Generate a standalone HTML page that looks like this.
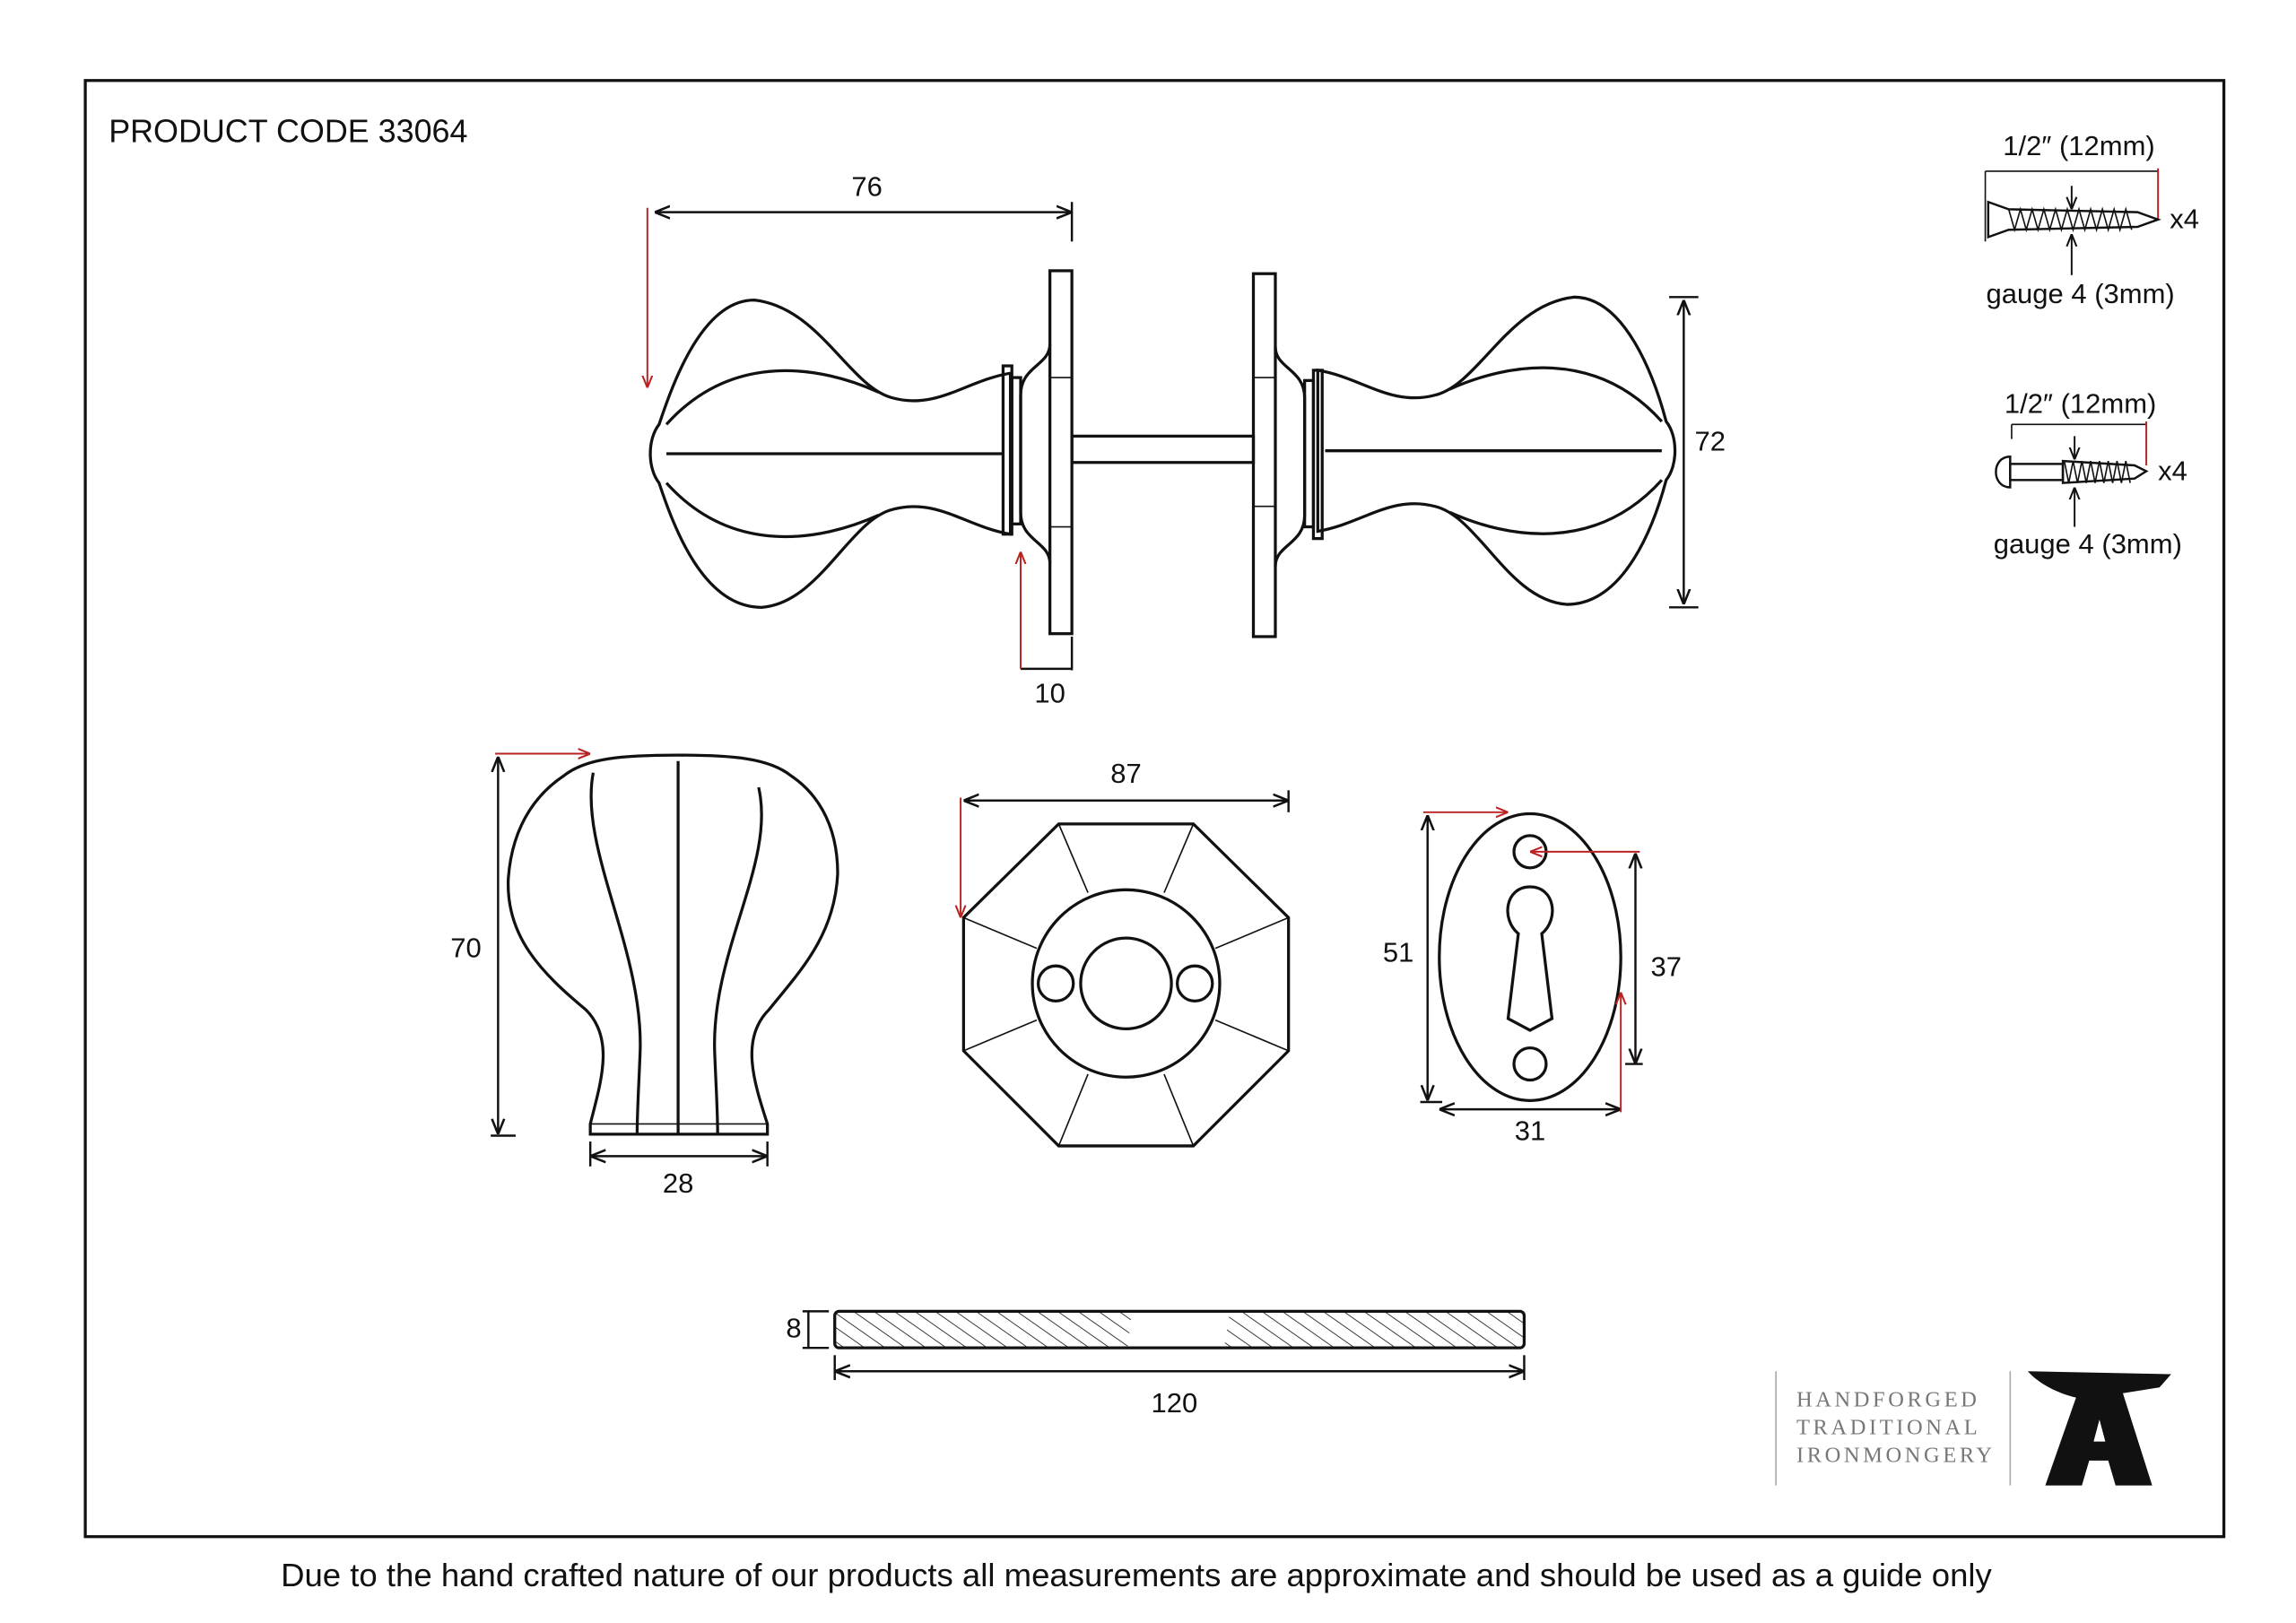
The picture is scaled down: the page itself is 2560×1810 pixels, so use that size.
<!DOCTYPE html>
<html><head><meta charset="utf-8"><style>
html,body{margin:0;padding:0;background:#fff;}
svg{display:block;}
text{font-family:"Liberation Sans",sans-serif;fill:#111;}
</style></head><body>
<svg width="2560" height="1810" viewBox="0 0 1568 1109" xmlns="http://www.w3.org/2000/svg">
<defs>
<marker id="a" viewBox="0 0 10 10" refX="10" refY="5" markerWidth="7" markerHeight="7" orient="auto-start-reverse"><path d="M0,1 L10,5 L0,9" fill="none" stroke="#111" stroke-width="1.5"/></marker>
<marker id="r" viewBox="0 0 10 10" refX="10" refY="5" markerWidth="7" markerHeight="7" orient="auto-start-reverse"><path d="M0,1 L10,5 L0,9" fill="none" stroke="#b22" stroke-width="1.5"/></marker>
<pattern id="h" width="8" height="8" patternUnits="userSpaceOnUse" patternTransform="rotate(-55)"><line x1="0" y1="0" x2="0" y2="8" stroke="#111" stroke-width="1"/></pattern>
</defs>
<rect x="58" y="55" width="1461" height="995" fill="none" stroke="#111" stroke-width="2"/>
<text x="74" y="97" font-size="22">PRODUCT CODE 33064</text>
<text x="776" y="1084" font-size="22.4" text-anchor="middle">Due to the hand crafted nature of our products all measurements are approximate and should be used as a guide only</text>

<g fill="none" stroke="#111" stroke-width="2">
<path d="M690,255 C660,260 640,280 610,272 C580,265 560,210 515,205 C480,205 460,260 450,290 C442,300 442,320 450,330 C460,360 480,415 520,415 C560,412 580,355 610,348 C640,340 660,360 690,365 Z"/>
<path d="M455,290 C500,240 560,250 600,268 M455,330 C500,380 560,370 600,352"/>
<line x1="455" y1="310" x2="685" y2="310"/>
<rect x="685" y="250" width="6" height="115"/><rect x="691" y="258" width="6" height="100"/>
<path d="M717,235 C717,250 697,250 697,270 L697,350 C697,370 717,370 717,385"/>
<rect x="717" y="185" width="15" height="248"/>
<rect x="732" y="298" width="124" height="18"/>
<rect x="856" y="187" width="15" height="248"/>
<path d="M871,237 C871,252 891,252 891,272 L891,352 C891,372 871,372 871,387"/>
<rect x="891" y="260" width="6" height="100"/><rect x="897" y="253" width="6" height="115"/>
<path d="M900,253 C930,258 950,278 980,270 C1010,263 1030,208 1075,203 C1110,203 1130,258 1138,288 C1146,298 1146,318 1138,328 C1130,358 1110,413 1070,413 C1030,410 1010,353 980,346 C950,338 930,358 900,363 Z"/>
<path d="M1135,288 C1090,238 1030,248 990,266 M1135,328 C1090,378 1030,368 990,350"/>
<line x1="905" y1="308" x2="1135" y2="308"/>
<line x1="717" y1="258" x2="732" y2="258" stroke-width="1"/><line x1="717" y1="360" x2="732" y2="360" stroke-width="1"/>
<line x1="856" y1="258" x2="871" y2="258" stroke-width="1"/><line x1="856" y1="346" x2="871" y2="346" stroke-width="1"/>
</g>
<g stroke="#111" stroke-width="1.5" fill="none">
<line x1="447" y1="145" x2="732" y2="145" marker-start="url(#a)" marker-end="url(#a)"/>
<line x1="732" y1="138" x2="732" y2="165"/>
<line x1="1150" y1="205" x2="1150" y2="413" marker-start="url(#a)" marker-end="url(#a)"/>
<line x1="1140" y1="203" x2="1160" y2="203"/><line x1="1140" y1="415" x2="1160" y2="415"/>
<line x1="732" y1="435" x2="732" y2="458"/><line x1="697" y1="457" x2="732" y2="457"/>
</g>
<g stroke="#b22" stroke-width="1.2" fill="none">
<line x1="442" y1="142" x2="442" y2="265" marker-end="url(#r)"/>
<line x1="697" y1="457" x2="697" y2="377" marker-end="url(#r)"/>
</g>
<text x="592" y="134" font-size="19" text-anchor="middle">76</text>
<text x="1168" y="308" font-size="19" text-anchor="middle">72</text>
<text x="717" y="480" font-size="19" text-anchor="middle">10</text>

<g fill="none" stroke="#111" stroke-width="2">
<path d="M403,775 L403,768 C410,740 420,710 400,690 C370,665 345,640 347,600 C350,560 370,540 385,530 C400,518 425,516 463,516 C500,516 525,518 540,530 C555,540 572,560 572,597 C570,640 545,665 525,690 C505,710 515,740 524,768 L524,775 Z"/>
<path d="M405,528 C395,580 440,650 437,720 C436,745 435,760 435,775"/>
<path d="M518,538 C530,590 485,650 488,720 C489,745 490,760 490,775"/>
<line x1="463" y1="520" x2="463" y2="775"/>
<line x1="403" y1="768" x2="524" y2="768" stroke-width="1"/>
</g>
<g stroke="#111" stroke-width="1.5" fill="none">
<line x1="340" y1="517" x2="340" y2="775" marker-start="url(#a)" marker-end="url(#a)"/>
<line x1="335" y1="776" x2="352" y2="776"/>
<line x1="403" y1="790" x2="524" y2="790" marker-start="url(#a)" marker-end="url(#a)"/>
<line x1="403" y1="780" x2="403" y2="797"/><line x1="524" y1="780" x2="524" y2="797"/>
</g>
<line x1="338" y1="515" x2="403" y2="515" stroke="#b22" stroke-width="1.2" marker-end="url(#r)"/>
<text x="318" y="654" font-size="19" text-anchor="middle">70</text>
<text x="463" y="815" font-size="19" text-anchor="middle">28</text>

<g fill="none" stroke="#111" stroke-width="2">
<polygon points="723,563 815,563 880,627 880,718 815,783 723,783 658,718 658,627"/>
<circle cx="769" cy="672" r="64"/>
<circle cx="769" cy="672" r="31"/>
<circle cx="721" cy="672" r="12"/><circle cx="816" cy="672" r="12"/>
</g>
<g stroke="#111" stroke-width="1">
<line x1="723" y1="563" x2="743" y2="610"/><line x1="815" y1="563" x2="795" y2="610"/>
<line x1="880" y1="627" x2="830" y2="648"/><line x1="880" y1="718" x2="830" y2="697"/>
<line x1="815" y1="783" x2="795" y2="734"/><line x1="723" y1="783" x2="743" y2="734"/>
<line x1="658" y1="718" x2="708" y2="697"/><line x1="658" y1="627" x2="708" y2="648"/>
</g>
<line x1="658" y1="547" x2="880" y2="547" stroke="#111" stroke-width="1.5" marker-start="url(#a)" marker-end="url(#a)"/>
<line x1="880" y1="540" x2="880" y2="555" stroke="#111" stroke-width="1.5"/>
<line x1="656" y1="545" x2="656" y2="627" stroke="#b22" stroke-width="1.2" marker-end="url(#r)"/>
<text x="769" y="535" font-size="19" text-anchor="middle">87</text>

<g fill="none" stroke="#111" stroke-width="2">
<ellipse cx="1045" cy="654" rx="62" ry="98"/>
<circle cx="1045" cy="582" r="11"/><circle cx="1045" cy="727" r="11"/>
<path d="M1037,638 C1025,628 1028,606 1045,606 C1062,606 1065,628 1053,638 L1060,696 L1045,704 L1030,696 Z"/>
</g>
<g stroke="#111" stroke-width="1.5" fill="none">
<line x1="975" y1="557" x2="975" y2="752" marker-start="url(#a)" marker-end="url(#a)"/>
<line x1="970" y1="753" x2="985" y2="753"/>
<line x1="1117" y1="583" x2="1117" y2="727" marker-start="url(#a)" marker-end="url(#a)"/>
<line x1="1110" y1="727" x2="1122" y2="727"/>
<line x1="983" y1="758" x2="1107" y2="758" marker-start="url(#a)" marker-end="url(#a)"/>
</g>
<g stroke="#b22" stroke-width="1.2" fill="none">
<line x1="972" y1="555" x2="1030" y2="555" marker-end="url(#r)"/>
<line x1="1120" y1="582" x2="1045" y2="582" marker-end="url(#r)"/>
<line x1="1107" y1="760" x2="1107" y2="678" marker-end="url(#r)"/>
</g>
<text x="955" y="657" font-size="19" text-anchor="middle">51</text>
<text x="1138" y="667" font-size="19" text-anchor="middle">37</text>
<text x="1045" y="779" font-size="19" text-anchor="middle">31</text>

<path d="M570,896 H773 L770,921 H570 Z" fill="url(#h)"/>
<path d="M840,896 H1041 V921 H836 Z" fill="url(#h)"/>
<rect x="570" y="896" width="471" height="25" rx="3" fill="none" stroke="#111" stroke-width="2"/>
<g stroke="#111" stroke-width="1.5" fill="none">
<line x1="552" y1="896" x2="552" y2="921"/><line x1="548" y1="896" x2="566" y2="896"/><line x1="548" y1="921" x2="566" y2="921"/>
<line x1="570" y1="937" x2="1041" y2="937" marker-start="url(#a)" marker-end="url(#a)"/>
<line x1="570" y1="926" x2="570" y2="943"/><line x1="1041" y1="926" x2="1041" y2="943"/>
</g>
<text x="542" y="914" font-size="19" text-anchor="middle">8</text>
<text x="802" y="965" font-size="19" text-anchor="middle">120</text>

<text x="1420" y="106" font-size="19" text-anchor="middle">1/2″ (12mm)</text>
<line x1="1356" y1="117" x2="1474" y2="117" stroke="#111" stroke-width="1"/>
<line x1="1356" y1="117" x2="1356" y2="165" stroke="#111" stroke-width="1"/>
<line x1="1474" y1="115" x2="1474" y2="150" stroke="#b22" stroke-width="1.2"/>
<path d="M1358,138 L1372,143 L1460,145 L1474,150 L1460,155 L1372,157 L1358,162 Z" fill="none" stroke="#111" stroke-width="1.5"/>
<path d="M1372,143 l4,14 l4,-14 l4,14 l4,-14 l4,14 l4,-14 l4,14 l4,-14 l4,14 l4,-14 l4,14 l4,-14 l4,14 l4,-14 l4,14 l4,-14 l4,14 l4,-14 l4,14 l4,-14 l4,14" fill="none" stroke="#111" stroke-width="1"/>
<line x1="1415" y1="127" x2="1415" y2="143" stroke="#111" stroke-width="1.2" marker-end="url(#a)"/>
<line x1="1415" y1="188" x2="1415" y2="160" stroke="#111" stroke-width="1.2" marker-end="url(#a)"/>
<text x="1482" y="156" font-size="19">x4</text>
<text x="1421" y="207" font-size="19" text-anchor="middle">gauge 4 (3mm)</text>

<text x="1421" y="282" font-size="19" text-anchor="middle">1/2″ (12mm)</text>
<line x1="1374" y1="290" x2="1466" y2="290" stroke="#111" stroke-width="1"/>
<line x1="1374" y1="290" x2="1374" y2="300" stroke="#111" stroke-width="1"/>
<line x1="1466" y1="288" x2="1466" y2="318" stroke="#b22" stroke-width="1.2"/>
<path d="M1373,312 C1360,312 1360,333 1373,333 Z" fill="none" stroke="#111" stroke-width="1.5"/>
<rect x="1373" y="317" width="36" height="11" fill="none" stroke="#111" stroke-width="1.5"/>
<path d="M1409,315 L1458,318 L1466,322 L1458,327 L1409,330 Z" fill="none" stroke="#111" stroke-width="1.5"/>
<path d="M1410,315 l3,15 l3,-15 l3,15 l3,-15 l3,15 l3,-15 l3,15 l3,-15 l3,15 l3,-15 l3,15 l3,-15 l3,15 l3,-15 l3,15" fill="none" stroke="#111" stroke-width="1"/>
<line x1="1417" y1="298" x2="1417" y2="314" stroke="#111" stroke-width="1.2" marker-end="url(#a)"/>
<line x1="1417" y1="360" x2="1417" y2="333" stroke="#111" stroke-width="1.2" marker-end="url(#a)"/>
<text x="1474" y="328" font-size="19">x4</text>
<text x="1426" y="378" font-size="19" text-anchor="middle">gauge 4 (3mm)</text>

<line x1="1213" y1="937" x2="1213" y2="1015" stroke="#aaa" stroke-width="1"/>
<line x1="1373" y1="937" x2="1373" y2="1015" stroke="#aaa" stroke-width="1"/>
<g font-size="15" letter-spacing="2.2">
<text x="1227" y="961" style="fill:#777;font-family:'Liberation Serif',serif">HANDFORGED</text>
<text x="1227" y="980" style="fill:#777;font-family:'Liberation Serif',serif">TRADITIONAL</text>
<text x="1227" y="999" style="fill:#777;font-family:'Liberation Serif',serif">IRONMONGERY</text>
</g>
<path d="M1385,937 L1483,939 L1475,948 L1450,952 L1470,1015 L1445,1015 L1440,998 L1427,998 L1422,1015 L1397,1015 L1418,955 C1405,952 1392,945 1385,937 Z M1430,985 L1438,985 L1434,970 Z" fill="#111" fill-rule="evenodd"/>
</svg>
</body></html>
